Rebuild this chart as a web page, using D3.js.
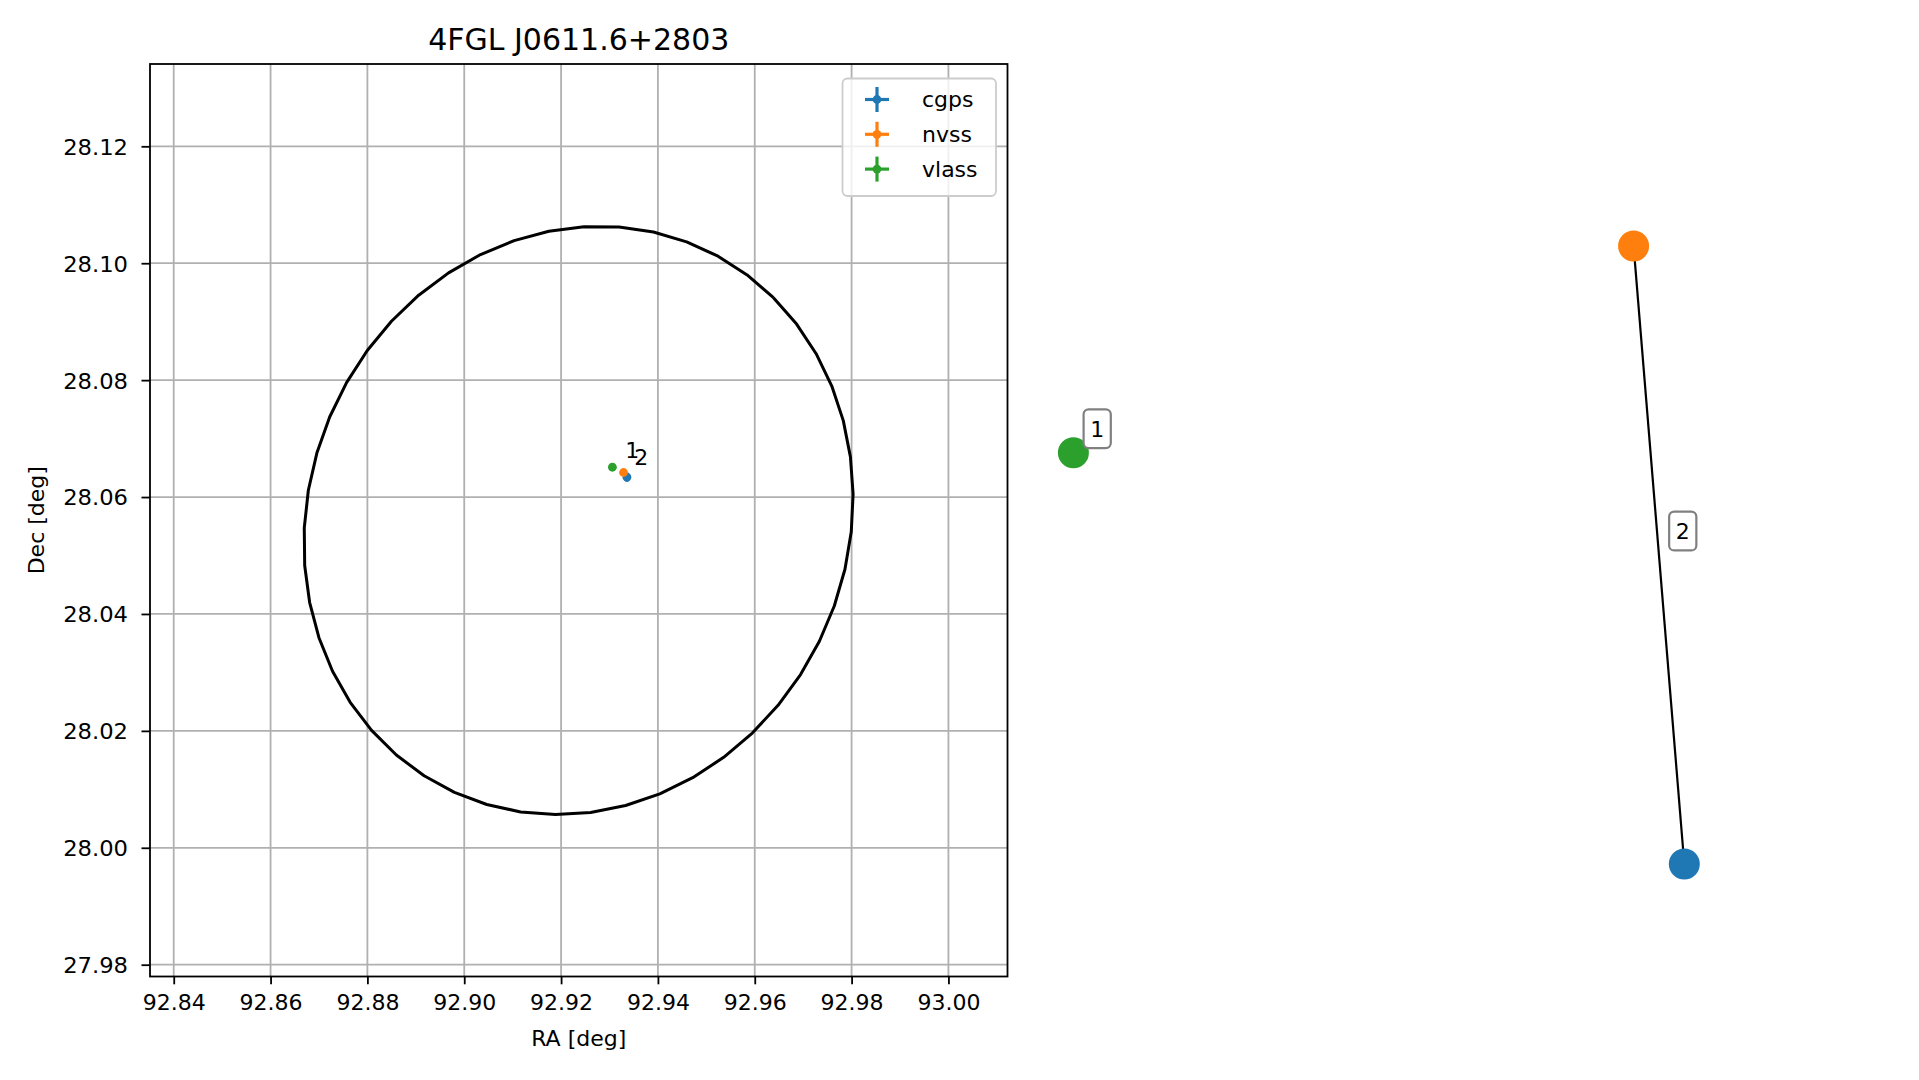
<!DOCTYPE html>
<html>
<head>
<meta charset="utf-8">
<script src="https://cdn.jsdelivr.net/npm/d3@7"></script>
<style>
  html, body { margin: 0; padding: 0; background: #ffffff; }
  svg { display: block; font-family: "DejaVu Sans", sans-serif; }
</style>
</head>
<body>
<svg id="chart" width="1919" height="1080"></svg>
<script>
// ---------------- DATA ----------------
const chartTitle = "4FGL J0611.6+2803";
const xLabel = "RA [deg]";
const yLabel = "Dec [deg]";
const raTicks = [92.84, 92.86, 92.88, 92.90, 92.92, 92.94, 92.96, 92.98, 93.00];
const decTicks = [27.98, 28.00, 28.02, 28.04, 28.06, 28.08, 28.10, 28.12];
const raLimits = [92.8351, 93.0122];
const decLimits = [27.97798, 28.13408];

// Fermi error ellipse (sky degrees, position angle N through E)
const ellipseCenter = [92.9236, 28.0560];
const ellipseAxes = [0.0521, 0.0482];
const ellipsePA = 43;
const ellipseVertexCount = 50;

// radio sources
const surveys = ["cgps", "nvss", "vlass"];
const srcRA = [92.9336, 92.9329, 92.9306];
const srcDec = [28.0634, 28.0642, 28.0651];
const srcErrRA = [0.0008, 0.0003, 0.0002];
const srcErrDec = [0.0008, 0.0003, 0.0002];

// group labels on the sky plot
const groupLabels = ["1", "2"];
const groupLabelRA = [92.93327, 92.93512];
const groupLabelDec = [28.06662, 28.06547];

// match graph (layout coordinates)
const nodeSurvey = ["vlass", "nvss", "cgps"];
const nodeX = [-1.0, 0.834, 1.0];
const nodeY = [0.331, 1.0, -1.0];
const graphEdges = [[1, 2]];
const graphGroups = [[0], [1, 2]];

// ---------------- STYLE ----------------
const colors = { cgps: "#1f77b4", nvss: "#ff7f0e", vlass: "#2ca02c" };
const FONT = 22;
const svg = d3.select("#chart");

const ax = { left: 150, right: 1007.5, top: 64, bottom: 976.5 };
const x = d3.scaleLinear().domain(raLimits).range([ax.left, ax.right]);
const y = d3.scaleLinear().domain(decLimits).range([ax.bottom, ax.top]);

const gAx = svg.append("g");

// grid
gAx.append("g").selectAll("line").data(raTicks).join("line")
  .attr("x1", d => x(d)).attr("x2", d => x(d))
  .attr("y1", ax.top).attr("y2", ax.bottom)
  .attr("stroke", "#b0b0b0").attr("stroke-width", 1.8);
gAx.append("g").selectAll("line").data(decTicks).join("line")
  .attr("y1", d => y(d)).attr("y2", d => y(d))
  .attr("x1", ax.left).attr("x2", ax.right)
  .attr("stroke", "#b0b0b0").attr("stroke-width", 1.8);

// clip
svg.append("defs").append("clipPath").attr("id", "clipAx")
  .append("rect").attr("x", ax.left).attr("y", ax.top)
  .attr("width", ax.right - ax.left).attr("height", ax.bottom - ax.top);
const plot = gAx.append("g").attr("clip-path", "url(#clipAx)");

// ellipse polygon
const cosDec = Math.cos(ellipseCenter[1] * Math.PI / 180);
const pa = ellipsePA * Math.PI / 180;
const ellPts = d3.range(ellipseVertexCount).map(i => {
  const t = 2 * Math.PI * i / (ellipseVertexCount - 1);
  const u = ellipseAxes[0] * Math.cos(t), v = ellipseAxes[1] * Math.sin(t);
  const xi = u * Math.sin(pa) + v * Math.cos(pa);
  const eta = u * Math.cos(pa) - v * Math.sin(pa);
  return [ellipseCenter[0] + xi / cosDec, ellipseCenter[1] + eta];
});
plot.append("path")
  .attr("d", d3.line().x(d => x(d[0])).y(d => y(d[1]))(ellPts))
  .attr("fill", "none").attr("stroke", "#000").attr("stroke-width", 3)
  .attr("stroke-linejoin", "round");

// sources with error bars
surveys.forEach((s, i) => {
  const g = plot.append("g");
  g.append("line")
    .attr("x1", x(srcRA[i] - srcErrRA[i])).attr("x2", x(srcRA[i] + srcErrRA[i]))
    .attr("y1", y(srcDec[i])).attr("y2", y(srcDec[i]))
    .attr("stroke", colors[s]).attr("stroke-width", 3.2);
  g.append("line")
    .attr("x1", x(srcRA[i])).attr("x2", x(srcRA[i]))
    .attr("y1", y(srcDec[i] - srcErrDec[i])).attr("y2", y(srcDec[i] + srcErrDec[i]))
    .attr("stroke", colors[s]).attr("stroke-width", 3.2);
  g.append("circle").attr("cx", x(srcRA[i])).attr("cy", y(srcDec[i]))
    .attr("r", 4.4).attr("fill", colors[s]);
});

// group labels
groupLabels.forEach((l, i) => {
  plot.append("text").attr("x", x(groupLabelRA[i])).attr("y", y(groupLabelDec[i]))
    .attr("font-size", FONT).attr("fill", "#000").text(l);
});

// spines
gAx.append("rect").attr("x", ax.left).attr("y", ax.top)
  .attr("width", ax.right - ax.left).attr("height", ax.bottom - ax.top)
  .attr("fill", "none").attr("stroke", "#000").attr("stroke-width", 1.8);

// x axis
const xAxis = d3.axisBottom(x).tickValues(raTicks).tickFormat(d3.format(".2f"))
  .tickSize(7.8).tickPadding(9);
const gx = gAx.append("g").attr("transform", `translate(0,${ax.bottom})`).call(xAxis);
gx.select(".domain").remove();
gx.selectAll(".tick line").attr("stroke", "#000").attr("stroke-width", 1.8);
gx.selectAll(".tick text").attr("font-size", FONT).attr("font-family", "DejaVu Sans")
  .attr("fill", "#000").attr("dy", "0.76em");

// y axis
const Y_TICK = 8.5, Y_PAD = 13.5, Y_OFF = Y_TICK + Y_PAD;
const yAxis = d3.axisLeft(y).tickValues(decTicks).tickFormat(d3.format(".2f"))
  .tickSize(Y_TICK).tickPadding(Y_PAD);
const gy = gAx.append("g").attr("transform", `translate(${ax.left},0)`).call(yAxis);
gy.select(".domain").remove();
gy.selectAll(".tick line").attr("stroke", "#000").attr("stroke-width", 1.8);
gy.selectAll(".tick text").attr("font-size", FONT).attr("font-family", "DejaVu Sans")
  .attr("fill", "#000").attr("dy", "0.36em")
  .attr("transform", `translate(${-Y_OFF},0) scale(1.03,1) translate(${Y_OFF},0)`);

// title & labels
svg.append("text").attr("x", (ax.left + ax.right) / 2).attr("y", 50)
  .attr("text-anchor", "middle").attr("font-size", 30).attr("fill", "#000").text(chartTitle);
svg.append("text").attr("x", (ax.left + ax.right) / 2).attr("y", 1046)
  .attr("text-anchor", "middle").attr("font-size", FONT).attr("fill", "#000").text(xLabel);
svg.append("text").attr("transform", `translate(44,${(ax.top + ax.bottom) / 2}) rotate(-90)`)
  .attr("text-anchor", "middle").attr("font-size", FONT).attr("fill", "#000").text(yLabel);

// legend
const lg = svg.append("g");
lg.append("rect").attr("x", 842.5).attr("y", 78.5).attr("width", 153.5).attr("height", 117.5)
  .attr("rx", 5).attr("fill", "#fff").attr("fill-opacity", 0.8)
  .attr("stroke", "#cccccc").attr("stroke-width", 1.8);
surveys.forEach((s, i) => {
  const cy = 99.5 + i * 34.8, cx = 877;
  lg.append("line").attr("x1", cx - 12).attr("x2", cx + 12).attr("y1", cy).attr("y2", cy)
    .attr("stroke", colors[s]).attr("stroke-width", 3.2);
  lg.append("line").attr("x1", cx).attr("x2", cx).attr("y1", cy - 12.5).attr("y2", cy + 12.5)
    .attr("stroke", colors[s]).attr("stroke-width", 3.2);
  lg.append("circle").attr("cx", cx).attr("cy", cy).attr("r", 4.4).attr("fill", colors[s]);
  lg.append("text").attr("x", 922).attr("y", cy + 7.5).attr("font-size", FONT)
    .attr("fill", "#000").text(s);
});

// ---------------- GRAPH PANEL ----------------
const gxs = d3.scaleLinear().domain([-1, 1]).range([1073.4, 1684.3]);
const gys = d3.scaleLinear().domain([-1, 1]).range([864, 246]);
const gp = svg.append("g");
graphEdges.forEach(([a, b]) => {
  gp.append("line").attr("x1", gxs(nodeX[a])).attr("y1", gys(nodeY[a]))
    .attr("x2", gxs(nodeX[b])).attr("y2", gys(nodeY[b]))
    .attr("stroke", "#000").attr("stroke-width", 2.2);
});
nodeSurvey.forEach((s, i) => {
  gp.append("circle").attr("cx", gxs(nodeX[i])).attr("cy", gys(nodeY[i]))
    .attr("r", 15.5).attr("fill", colors[s]);
});
graphGroups.forEach((members, k) => {
  const mx = d3.mean(members, m => nodeX[m]);
  const my = d3.mean(members, m => nodeY[m]);
  const cx = gxs(mx) + 23.8, cy = gys(my) - 24;
  const lab = gp.append("g");
  const t = lab.append("text").attr("x", cx).attr("y", cy).attr("text-anchor", "middle")
    .attr("dy", "0.36em").attr("font-size", FONT).attr("fill", "#000").text(groupLabels[k]);
  const bb = t.node().getBBox();
  const pad = 6.6;
  lab.insert("rect", "text").attr("x", bb.x - pad).attr("y", cy - 12.8 - pad)
    .attr("width", bb.width + 2 * pad).attr("height", 25.6 + 2 * pad).attr("rx", 5)
    .attr("fill", "#fff").attr("stroke", "#808080").attr("stroke-width", 2.2);
});
</script>
</body>
</html>
